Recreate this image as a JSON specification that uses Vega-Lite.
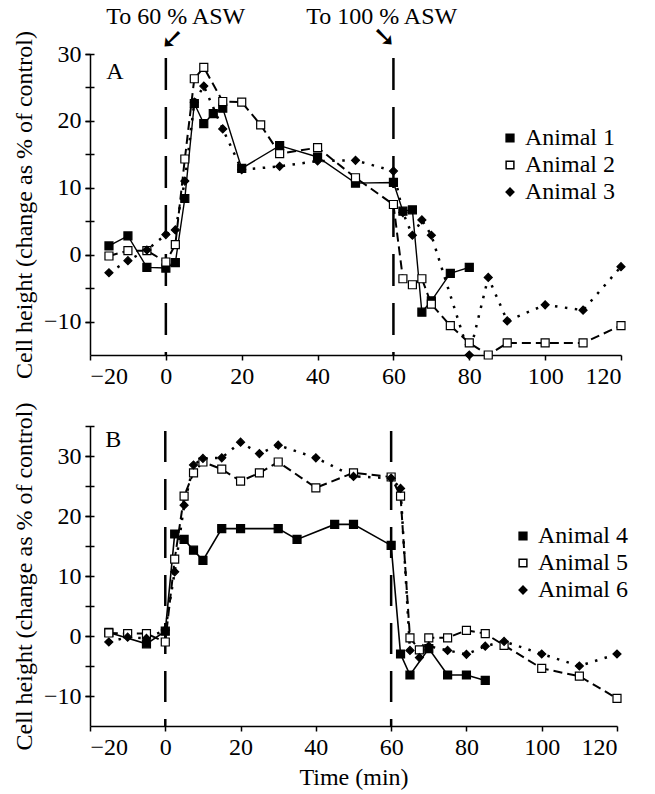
{
  "$schema": "https://vega.github.io/schema/vega-lite/v6.json",
  "padding": {"top": 5, "left": 12, "right": 5, "bottom": 5},
  "spacing": 14,
  "config": {
    "font": "Liberation Serif",
    "view": {"stroke": null},
    "axis": {
      "labelFont": "Liberation Serif", "titleFont": "Liberation Serif",
      "labelFontSize": 24, "titleFontSize": 24, "titleFontWeight": "normal",
      "labelColor": "black", "titleColor": "black",
      "domainColor": "black", "tickColor": "black",
      "domainWidth": 1.5, "tickWidth": 1.5, "tickSize": 5,
      "labelPadding": 4, "titlePadding": 7, "grid": false
    },
    "legend": {
      "labelFont": "Liberation Serif", "labelFontSize": 24, "labelColor": "black",
      "symbolSize": 60, "rowPadding": 3, "labelOffset": 3, "padding": 0
    }
  },
  "datasets": {
    "vlines": [{"t": 0}, {"t": 60}],
    "one": [{}],
    "panelA": [
      {"animal": "Animal 1", "t": -15, "v": 1.3}, {"animal": "Animal 1", "t": -10, "v": 2.8},
      {"animal": "Animal 1", "t": -5, "v": -1.9}, {"animal": "Animal 1", "t": 0, "v": -2.0},
      {"animal": "Animal 1", "t": 2.5, "v": -1.2}, {"animal": "Animal 1", "t": 5, "v": 8.4},
      {"animal": "Animal 1", "t": 7.5, "v": 22.6}, {"animal": "Animal 1", "t": 10, "v": 19.6},
      {"animal": "Animal 1", "t": 12.5, "v": 21.1}, {"animal": "Animal 1", "t": 15, "v": 21.9},
      {"animal": "Animal 1", "t": 20, "v": 12.9}, {"animal": "Animal 1", "t": 30, "v": 16.3},
      {"animal": "Animal 1", "t": 40, "v": 14.6}, {"animal": "Animal 1", "t": 50, "v": 10.7},
      {"animal": "Animal 1", "t": 60, "v": 10.8}, {"animal": "Animal 1", "t": 62.5, "v": 6.5},
      {"animal": "Animal 1", "t": 65, "v": 6.7}, {"animal": "Animal 1", "t": 67.5, "v": -8.6},
      {"animal": "Animal 1", "t": 70, "v": -6.9}, {"animal": "Animal 1", "t": 75, "v": -2.8},
      {"animal": "Animal 1", "t": 80, "v": -1.9},
      {"animal": "Animal 2", "t": -15, "v": -0.2}, {"animal": "Animal 2", "t": -10, "v": 0.6},
      {"animal": "Animal 2", "t": -5, "v": 0.6}, {"animal": "Animal 2", "t": 0, "v": -1.1},
      {"animal": "Animal 2", "t": 2.5, "v": 1.5}, {"animal": "Animal 2", "t": 5, "v": 14.3},
      {"animal": "Animal 2", "t": 7.5, "v": 26.3}, {"animal": "Animal 2", "t": 10, "v": 28.0},
      {"animal": "Animal 2", "t": 15, "v": 22.9}, {"animal": "Animal 2", "t": 20, "v": 22.8},
      {"animal": "Animal 2", "t": 25, "v": 19.4}, {"animal": "Animal 2", "t": 30, "v": 15.1},
      {"animal": "Animal 2", "t": 40, "v": 16.0}, {"animal": "Animal 2", "t": 50, "v": 11.5},
      {"animal": "Animal 2", "t": 60, "v": 7.5}, {"animal": "Animal 2", "t": 62.5, "v": -3.6},
      {"animal": "Animal 2", "t": 65, "v": -4.5}, {"animal": "Animal 2", "t": 67.5, "v": -3.6},
      {"animal": "Animal 2", "t": 70, "v": -7.4}, {"animal": "Animal 2", "t": 75, "v": -10.6},
      {"animal": "Animal 2", "t": 80, "v": -13.2}, {"animal": "Animal 2", "t": 85, "v": -15.0},
      {"animal": "Animal 2", "t": 90, "v": -13.2}, {"animal": "Animal 2", "t": 100, "v": -13.2},
      {"animal": "Animal 2", "t": 110, "v": -13.2}, {"animal": "Animal 2", "t": 120, "v": -10.6},
      {"animal": "Animal 3", "t": -15, "v": -2.7}, {"animal": "Animal 3", "t": -10, "v": -0.9},
      {"animal": "Animal 3", "t": -5, "v": 0.7}, {"animal": "Animal 3", "t": 0, "v": 3.0},
      {"animal": "Animal 3", "t": 2.5, "v": 3.7}, {"animal": "Animal 3", "t": 5, "v": 11.0},
      {"animal": "Animal 3", "t": 7.5, "v": 22.8}, {"animal": "Animal 3", "t": 10, "v": 25.2},
      {"animal": "Animal 3", "t": 15, "v": 18.8}, {"animal": "Animal 3", "t": 20, "v": 12.7},
      {"animal": "Animal 3", "t": 30, "v": 13.2}, {"animal": "Animal 3", "t": 40, "v": 14.0},
      {"animal": "Animal 3", "t": 50, "v": 14.1}, {"animal": "Animal 3", "t": 60, "v": 12.5},
      {"animal": "Animal 3", "t": 62.5, "v": 6.3}, {"animal": "Animal 3", "t": 65, "v": 2.9},
      {"animal": "Animal 3", "t": 67.5, "v": 5.2}, {"animal": "Animal 3", "t": 70, "v": 2.9},
      {"animal": "Animal 3", "t": 80, "v": -15.0}, {"animal": "Animal 3", "t": 85, "v": -3.4},
      {"animal": "Animal 3", "t": 90, "v": -9.9}, {"animal": "Animal 3", "t": 100, "v": -7.5},
      {"animal": "Animal 3", "t": 110, "v": -8.3}, {"animal": "Animal 3", "t": 120, "v": -1.8}
    ],
    "panelB": [
      {"animal": "Animal 4", "t": -15, "v": 0.6}, {"animal": "Animal 4", "t": -5, "v": -1.3},
      {"animal": "Animal 4", "t": 0, "v": 0.8}, {"animal": "Animal 4", "t": 2.5, "v": 17.0},
      {"animal": "Animal 4", "t": 5, "v": 16.1}, {"animal": "Animal 4", "t": 7.5, "v": 14.3},
      {"animal": "Animal 4", "t": 10, "v": 12.6}, {"animal": "Animal 4", "t": 15, "v": 17.9},
      {"animal": "Animal 4", "t": 20, "v": 17.9}, {"animal": "Animal 4", "t": 30, "v": 17.9},
      {"animal": "Animal 4", "t": 35, "v": 16.1}, {"animal": "Animal 4", "t": 45, "v": 18.6},
      {"animal": "Animal 4", "t": 50, "v": 18.6}, {"animal": "Animal 4", "t": 60, "v": 15.1},
      {"animal": "Animal 4", "t": 62.5, "v": -3.0}, {"animal": "Animal 4", "t": 65, "v": -6.5},
      {"animal": "Animal 4", "t": 70, "v": -2.1}, {"animal": "Animal 4", "t": 75, "v": -6.5},
      {"animal": "Animal 4", "t": 80, "v": -6.5}, {"animal": "Animal 4", "t": 85, "v": -7.4},
      {"animal": "Animal 5", "t": -15, "v": 0.5}, {"animal": "Animal 5", "t": -10, "v": 0.4},
      {"animal": "Animal 5", "t": -5, "v": 0.4}, {"animal": "Animal 5", "t": 0, "v": -1.0},
      {"animal": "Animal 5", "t": 2.5, "v": 12.8}, {"animal": "Animal 5", "t": 5, "v": 23.3},
      {"animal": "Animal 5", "t": 7.5, "v": 27.2}, {"animal": "Animal 5", "t": 10, "v": 29.0},
      {"animal": "Animal 5", "t": 15, "v": 27.8}, {"animal": "Animal 5", "t": 20, "v": 25.8},
      {"animal": "Animal 5", "t": 25, "v": 27.2}, {"animal": "Animal 5", "t": 30, "v": 29.0},
      {"animal": "Animal 5", "t": 40, "v": 24.7}, {"animal": "Animal 5", "t": 50, "v": 27.2},
      {"animal": "Animal 5", "t": 60, "v": 26.5}, {"animal": "Animal 5", "t": 62.5, "v": 23.3},
      {"animal": "Animal 5", "t": 65, "v": -0.3}, {"animal": "Animal 5", "t": 67.5, "v": -2.3},
      {"animal": "Animal 5", "t": 70, "v": -0.3}, {"animal": "Animal 5", "t": 75, "v": -0.3},
      {"animal": "Animal 5", "t": 80, "v": 0.95}, {"animal": "Animal 5", "t": 85, "v": 0.4},
      {"animal": "Animal 5", "t": 90, "v": -1.55}, {"animal": "Animal 5", "t": 100, "v": -5.4},
      {"animal": "Animal 5", "t": 110, "v": -6.7}, {"animal": "Animal 5", "t": 120, "v": -10.4},
      {"animal": "Animal 6", "t": -15, "v": -1.0}, {"animal": "Animal 6", "t": -10, "v": -0.2},
      {"animal": "Animal 6", "t": -5, "v": -0.4}, {"animal": "Animal 6", "t": 0, "v": 1.0},
      {"animal": "Animal 6", "t": 2.5, "v": 10.7}, {"animal": "Animal 6", "t": 5, "v": 21.8},
      {"animal": "Animal 6", "t": 7.5, "v": 28.5}, {"animal": "Animal 6", "t": 10, "v": 29.6},
      {"animal": "Animal 6", "t": 15, "v": 29.7}, {"animal": "Animal 6", "t": 20, "v": 32.3},
      {"animal": "Animal 6", "t": 25, "v": 30.4}, {"animal": "Animal 6", "t": 30, "v": 31.8},
      {"animal": "Animal 6", "t": 40, "v": 29.7}, {"animal": "Animal 6", "t": 50, "v": 26.6},
      {"animal": "Animal 6", "t": 60, "v": 26.3}, {"animal": "Animal 6", "t": 62.5, "v": 24.6},
      {"animal": "Animal 6", "t": 65, "v": -2.4}, {"animal": "Animal 6", "t": 67.5, "v": -3.6},
      {"animal": "Animal 6", "t": 70, "v": -1.7}, {"animal": "Animal 6", "t": 75, "v": -2.4},
      {"animal": "Animal 6", "t": 80, "v": -3.05}, {"animal": "Animal 6", "t": 85, "v": -1.7},
      {"animal": "Animal 6", "t": 90, "v": -0.9}, {"animal": "Animal 6", "t": 100, "v": -3.0},
      {"animal": "Animal 6", "t": 110, "v": -5.0}, {"animal": "Animal 6", "t": 120, "v": -3.0}
    ]
  },
  "vconcat": [
    {
      "width": 531, "height": 301,
      "resolve": {"axis": {"y": "independent"}},
      "layer": [
        {
          "data": {"name": "vlines"},
          "mark": {"type": "rule", "color": "black", "strokeWidth": 2.5, "strokeDash": [32, 17], "strokeDashOffset": -4},
          "encoding": {"x": {"field": "t", "type": "quantitative", "scale": {"domain": [-20, 120]}}}
        },
        {
          "data": {"name": "panelA"},
          "transform": [{"filter": {"field": "animal", "equal": "Animal 1"}}],
          "mark": {"type": "line", "color": "black", "strokeWidth": 1.4},
          "encoding": {
            "x": {"field": "t", "type": "quantitative", "scale": {"domain": [-20, 120]},
                  "axis": {"values": [-20, 0, 20, 40, 60, 80, 100, 120], "title": null}},
            "y": {"field": "v", "type": "quantitative", "scale": {"domain": [-15, 30]},
                  "axis": {"orient": "left", "offset": 0, "values": [-10, 0, 10, 20, 30],
                           "title": "Cell height (change as % of control)"}}
          }
        },
        {
          "data": {"name": "panelA"},
          "transform": [{"filter": {"field": "animal", "equal": "Animal 2"}}],
          "mark": {"type": "line", "color": "black", "strokeWidth": 2, "strokeDash": [9, 5]},
          "encoding": {
            "x": {"field": "t", "type": "quantitative", "scale": {"domain": [-20, 120]}},
            "y": {"field": "v", "type": "quantitative", "scale": {"domain": [-15, 30]},
                  "axis": {"orient": "left", "offset": -4, "tickSize": 9, "values": [-10, -5, 0, 5, 10, 15, 20, 25, 30],
                           "labels": false, "domain": false, "title": null}}
          }
        },
        {
          "data": {"name": "panelA"},
          "transform": [{"filter": {"field": "animal", "equal": "Animal 3"}}],
          "mark": {"type": "line", "color": "black", "strokeWidth": 2.5, "strokeDash": [2.5, 7.5]},
          "encoding": {
            "x": {"field": "t", "type": "quantitative", "scale": {"domain": [-20, 120]}},
            "y": {"field": "v", "type": "quantitative", "scale": {"domain": [-15, 30]}, "axis": null}
          }
        },
        {
          "data": {"name": "panelA"},
          "mark": {"type": "point", "color": "black", "stroke": "black", "strokeWidth": 1.2, "size": 64, "opacity": 1},
          "encoding": {
            "x": {"field": "t", "type": "quantitative", "scale": {"domain": [-20, 120]}},
            "y": {"field": "v", "type": "quantitative", "scale": {"domain": [-15, 30]}, "axis": null},
            "shape": {"field": "animal", "type": "nominal",
                      "scale": {"domain": ["Animal 1", "Animal 2", "Animal 3"], "range": ["square", "square", "diamond"]},
                      "legend": {"title": null, "orient": "none", "legendX": 408, "legendY": 72,
                                 "encode": {"symbols": {"update": {"stroke": {"value": "black"}, "strokeWidth": {"value": 1.2}}}}}},
            "fill": {"field": "animal", "type": "nominal",
                     "scale": {"domain": ["Animal 1", "Animal 2", "Animal 3"], "range": ["black", "white", "black"]},
                     "legend": {"title": null, "orient": "none", "legendX": 408, "legendY": 72,
                                "encode": {"symbols": {"update": {"stroke": {"value": "black"}, "strokeWidth": {"value": 1.2}}}}}}
          }
        },
        {
          "data": {"name": "one"},
          "mark": {"type": "text", "text": "A", "fontSize": 24, "font": "Liberation Serif"},
          "encoding": {"x": {"datum": -13.4, "type": "quantitative"}, "y": {"datum": 27.3, "type": "quantitative", "axis": null}}
        },
        {
          "data": {"name": "one"},
          "mark": {"type": "text", "text": "To 60 % ASW", "fontSize": 24, "font": "Liberation Serif"},
          "encoding": {"x": {"datum": 2.6, "type": "quantitative"}, "y": {"datum": 35.5, "type": "quantitative", "axis": null}}
        },
        {
          "data": {"name": "one"},
          "mark": {"type": "text", "text": "To 100 % ASW", "fontSize": 24, "font": "Liberation Serif"},
          "encoding": {"x": {"datum": 56.9, "type": "quantitative"}, "y": {"datum": 35.5, "type": "quantitative", "axis": null}}
        },
        {
          "data": {"name": "one"},
          "mark": {"type": "text", "text": "➘", "fontSize": 28, "font": "DejaVu Sans", "fontWeight": "bold", "angle": 90},
          "encoding": {"x": {"datum": 1.3, "type": "quantitative"}, "y": {"datum": 32.2, "type": "quantitative", "axis": null}}
        },
        {
          "data": {"name": "one"},
          "mark": {"type": "text", "text": "➘", "fontSize": 28, "font": "DejaVu Sans", "fontWeight": "bold"},
          "encoding": {"x": {"datum": 57.6, "type": "quantitative"}, "y": {"datum": 32.4, "type": "quantitative", "axis": null}}
        }
      ]
    },
    {
      "width": 527, "height": 300,
      "resolve": {"axis": {"y": "independent"}},
      "layer": [
        {
          "data": {"name": "vlines"},
          "mark": {"type": "rule", "color": "black", "strokeWidth": 2.5, "strokeDash": [31, 17], "strokeDashOffset": -5},
          "encoding": {"x": {"field": "t", "type": "quantitative", "scale": {"domain": [-20, 120]}}}
        },
        {
          "data": {"name": "panelB"},
          "transform": [{"filter": {"field": "animal", "equal": "Animal 4"}}],
          "mark": {"type": "line", "color": "black", "strokeWidth": 1.6},
          "encoding": {
            "x": {"field": "t", "type": "quantitative", "scale": {"domain": [-20, 120]},
                  "axis": {"values": [-20, 0, 20, 40, 60, 80, 100, 120], "title": "Time (min)", "titlePadding": 6}},
            "y": {"field": "v", "type": "quantitative", "scale": {"domain": [-15, 35]},
                  "axis": {"orient": "left", "offset": 0, "values": [-10, 0, 10, 20, 30],
                           "title": "Cell height (change as % of control)"}}
          }
        },
        {
          "data": {"name": "panelB"},
          "transform": [{"filter": {"field": "animal", "equal": "Animal 5"}}],
          "mark": {"type": "line", "color": "black", "strokeWidth": 2, "strokeDash": [9, 5]},
          "encoding": {
            "x": {"field": "t", "type": "quantitative", "scale": {"domain": [-20, 120]}},
            "y": {"field": "v", "type": "quantitative", "scale": {"domain": [-15, 35]},
                  "axis": {"orient": "left", "offset": -4, "tickSize": 9, "values": [-10, -5, 0, 5, 10, 15, 20, 25, 30, 35],
                           "labels": false, "domain": false, "title": null}}
          }
        },
        {
          "data": {"name": "panelB"},
          "transform": [{"filter": {"field": "animal", "equal": "Animal 6"}}],
          "mark": {"type": "line", "color": "black", "strokeWidth": 2.5, "strokeDash": [2.5, 7.5]},
          "encoding": {
            "x": {"field": "t", "type": "quantitative", "scale": {"domain": [-20, 120]}},
            "y": {"field": "v", "type": "quantitative", "scale": {"domain": [-15, 35]}, "axis": null}
          }
        },
        {
          "data": {"name": "panelB"},
          "mark": {"type": "point", "color": "black", "stroke": "black", "strokeWidth": 1.2, "size": 64, "opacity": 1},
          "encoding": {
            "x": {"field": "t", "type": "quantitative", "scale": {"domain": [-20, 120]}},
            "y": {"field": "v", "type": "quantitative", "scale": {"domain": [-15, 35]}, "axis": null},
            "shape": {"field": "animal", "type": "nominal",
                      "scale": {"domain": ["Animal 4", "Animal 5", "Animal 6"], "range": ["square", "square", "diamond"]},
                      "legend": {"title": null, "orient": "none", "legendX": 421, "legendY": 98,
                                 "encode": {"symbols": {"update": {"stroke": {"value": "black"}, "strokeWidth": {"value": 1.2}}}}}},
            "fill": {"field": "animal", "type": "nominal",
                     "scale": {"domain": ["Animal 4", "Animal 5", "Animal 6"], "range": ["black", "white", "black"]},
                     "legend": {"title": null, "orient": "none", "legendX": 421, "legendY": 98,
                                "encode": {"symbols": {"update": {"stroke": {"value": "black"}, "strokeWidth": {"value": 1.2}}}}}}
          }
        },
        {
          "data": {"name": "one"},
          "mark": {"type": "text", "text": "B", "fontSize": 24, "font": "Liberation Serif"},
          "encoding": {"x": {"datum": -13.8, "type": "quantitative"}, "y": {"datum": 32.6, "type": "quantitative", "axis": null}}
        }
      ]
    }
  ],
  "resolve": {"scale": {"shape": "independent", "fill": "independent"}, "legend": {"shape": "independent", "fill": "independent"}}
}
